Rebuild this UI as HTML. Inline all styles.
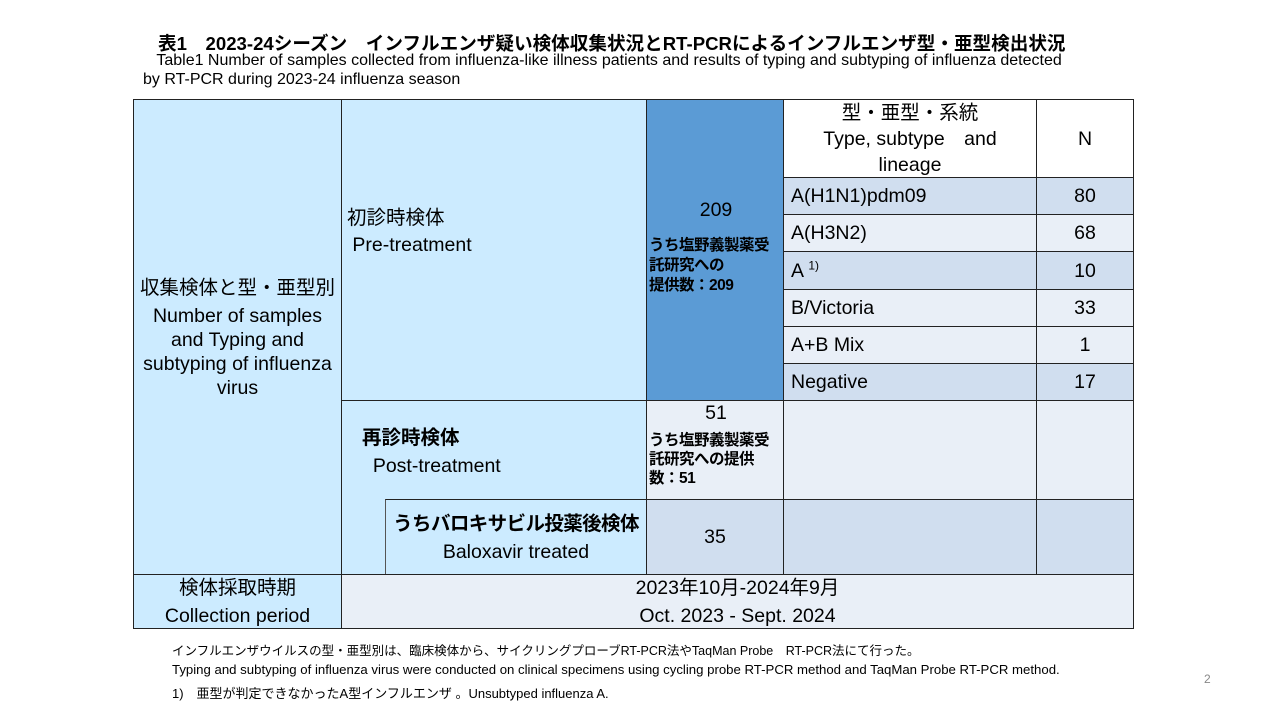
<!DOCTYPE html>
<html><head><meta charset="utf-8">
<style>
body{margin:0;width:1280px;height:720px;background:#fff;position:relative;overflow:hidden;font-family:"Liberation Sans","Noto Sans CJK JP",sans-serif;color:#000}
.c{position:absolute;box-sizing:border-box;border:1px solid #222;display:flex;flex-direction:column;justify-content:center;align-items:center;text-align:center;font-size:19.5px;line-height:24px}
.lb{background:#CCEBFF}.db{background:#5B9BD5}.dk{background:#D0DEEF}.lt{background:#E9EFF7}
.l{align-items:flex-start;text-align:left;padding-left:8px}
.t{position:absolute;white-space:nowrap}
</style></head><body>
<div class="t" style="left:158px;top:29px;font-size:18.6px;font-weight:bold">表1　2023-24シーズン　インフルエンザ疑い検体収集状況とRT-PCRによるインフルエンザ型・亜型検出状況</div>
<div class="t" style="left:143px;top:51px;font-size:16px;line-height:19px">&nbsp;&nbsp;&nbsp;Table1 Number of samples collected from influenza-like illness patients and results of typing and subtyping of influenza detected<br>by RT-PCR during 2023-24 influenza season</div>

<div class="c lb" style="left:133px;top:99px;width:209px;height:476px;line-height:24px;font-size:19.5px"><div style="margin-top:2px"><div style="margin-bottom:4px">収集検体と型・亜型別</div>Number of samples<br>and Typing and<br>subtyping of influenza<br>virus</div></div>
<div class="c lb l" style="left:341px;top:99px;width:306px;height:302px;padding-left:5px;padding-bottom:36px;line-height:27px">初診時検体<br>&nbsp;Pre-treatment</div>
<div class="c db" style="left:646px;top:99px;width:138px;height:302px;align-items:flex-start;padding-left:2px;justify-content:flex-start;padding-top:98px"><div style="width:134px;text-align:center">209</div><div style="font-size:15.5px;font-weight:bold;line-height:20px;text-align:left;margin-top:14px;letter-spacing:-0.5px">うち塩野義製薬受<br>託研究への<br>提供数：209</div></div>
<div class="c lt" style="left:783px;top:99px;width:254px;height:79px;background:#fff;line-height:26px">型・亜型・系統<br>Type, subtype　and<br>lineage</div>
<div class="c lt" style="left:1036px;top:99px;width:98px;height:79px;background:#fff">N</div>
<div id="rows"></div>

<div class="c lb" style="left:341px;top:400px;width:306px;height:175px;border-bottom:none"></div>
<div class="t" style="left:362px;top:424px;font-size:19.5px;line-height:28px"><b>再診時検体</b><br>&nbsp;&nbsp;Post-treatment</div>
<div class="c lt" style="left:646px;top:400px;width:138px;height:100px;justify-content:flex-start;align-items:flex-start;padding-left:2px"><div style="width:134px;text-align:center">51</div><div style="font-size:15.5px;font-weight:bold;line-height:19px;text-align:left;margin-top:6px;letter-spacing:-0.5px">うち塩野義製薬受<br>託研究への提供<br>数：51</div></div>
<div class="c lt" style="left:783px;top:400px;width:254px;height:100px"></div>
<div class="c lt" style="left:1036px;top:400px;width:98px;height:100px"></div>
<div class="c lb" style="left:385px;top:499px;width:262px;height:76px;line-height:28px;border-bottom:none;border-left-color:#555"><b style="letter-spacing:-0.6px">うちバロキサビル投薬後検体</b>Baloxavir treated</div>
<div class="c dk" style="left:646px;top:499px;width:138px;height:76px">35</div>
<div class="c dk" style="left:783px;top:499px;width:254px;height:76px"></div>
<div class="c dk" style="left:1036px;top:499px;width:98px;height:76px"></div>
<div class="c lb" style="left:133px;top:574px;width:209px;height:55px;line-height:28px">検体採取時期<br>Collection period</div>
<div class="c lt" style="left:341px;top:574px;width:793px;height:55px;line-height:28px">2023年10月-2024年9月<br>Oct. 2023 - Sept. 2024</div>

<div class="t" style="left:172px;top:640px;font-size:12.5px">インフルエンザウイルスの型・亜型別は、臨床検体から、サイクリングプローブRT-PCR法やTaqMan Probe　RT-PCR法にて行った。</div>
<div class="t" style="left:172px;top:662px;font-size:13.2px">Typing and subtyping of influenza virus were conducted on clinical specimens using cycling probe RT-PCR method and TaqMan Probe RT-PCR method.</div>
<div class="t" style="left:172px;top:683px;font-size:13px">1)　亜型が判定できなかったA型インフルエンザ 。Unsubtyped influenza A.</div>
<div class="t" style="left:1204px;top:672px;font-size:12px;color:#888">2</div>

<script>
const types=["A(H1N1)pdm09","A(H3N2)","A","B/Victoria","A+B Mix","Negative"];
const counts=[80,68,10,33,1,17];
const shades=["dk","lt","dk","lt","lt","dk"];
const tops=[177,214,251,289,326,363,400];
const host=document.getElementById('rows');
types.forEach((t,i)=>{
  const y=tops[i],h=tops[i+1]-y+1;
  const a=document.createElement('div');
  a.className='c l '+shades[i];
  
  
  a.style.cssText=`left:783px;top:${y}px;width:254px;height:${h}px;padding-left:7px`;
  a.innerHTML=t==="A"?'<span>A <sup style="font-size:12px;line-height:0">1)</sup></span>':'<span>'+t+'</span>';
  host.appendChild(a);
  const b=document.createElement('div');
  b.className='c '+shades[i];
  
  
  b.style.cssText=`left:1036px;top:${y}px;width:98px;height:${h}px`;
  b.textContent=counts[i];
  host.appendChild(b);
});
</script>
</body></html>
